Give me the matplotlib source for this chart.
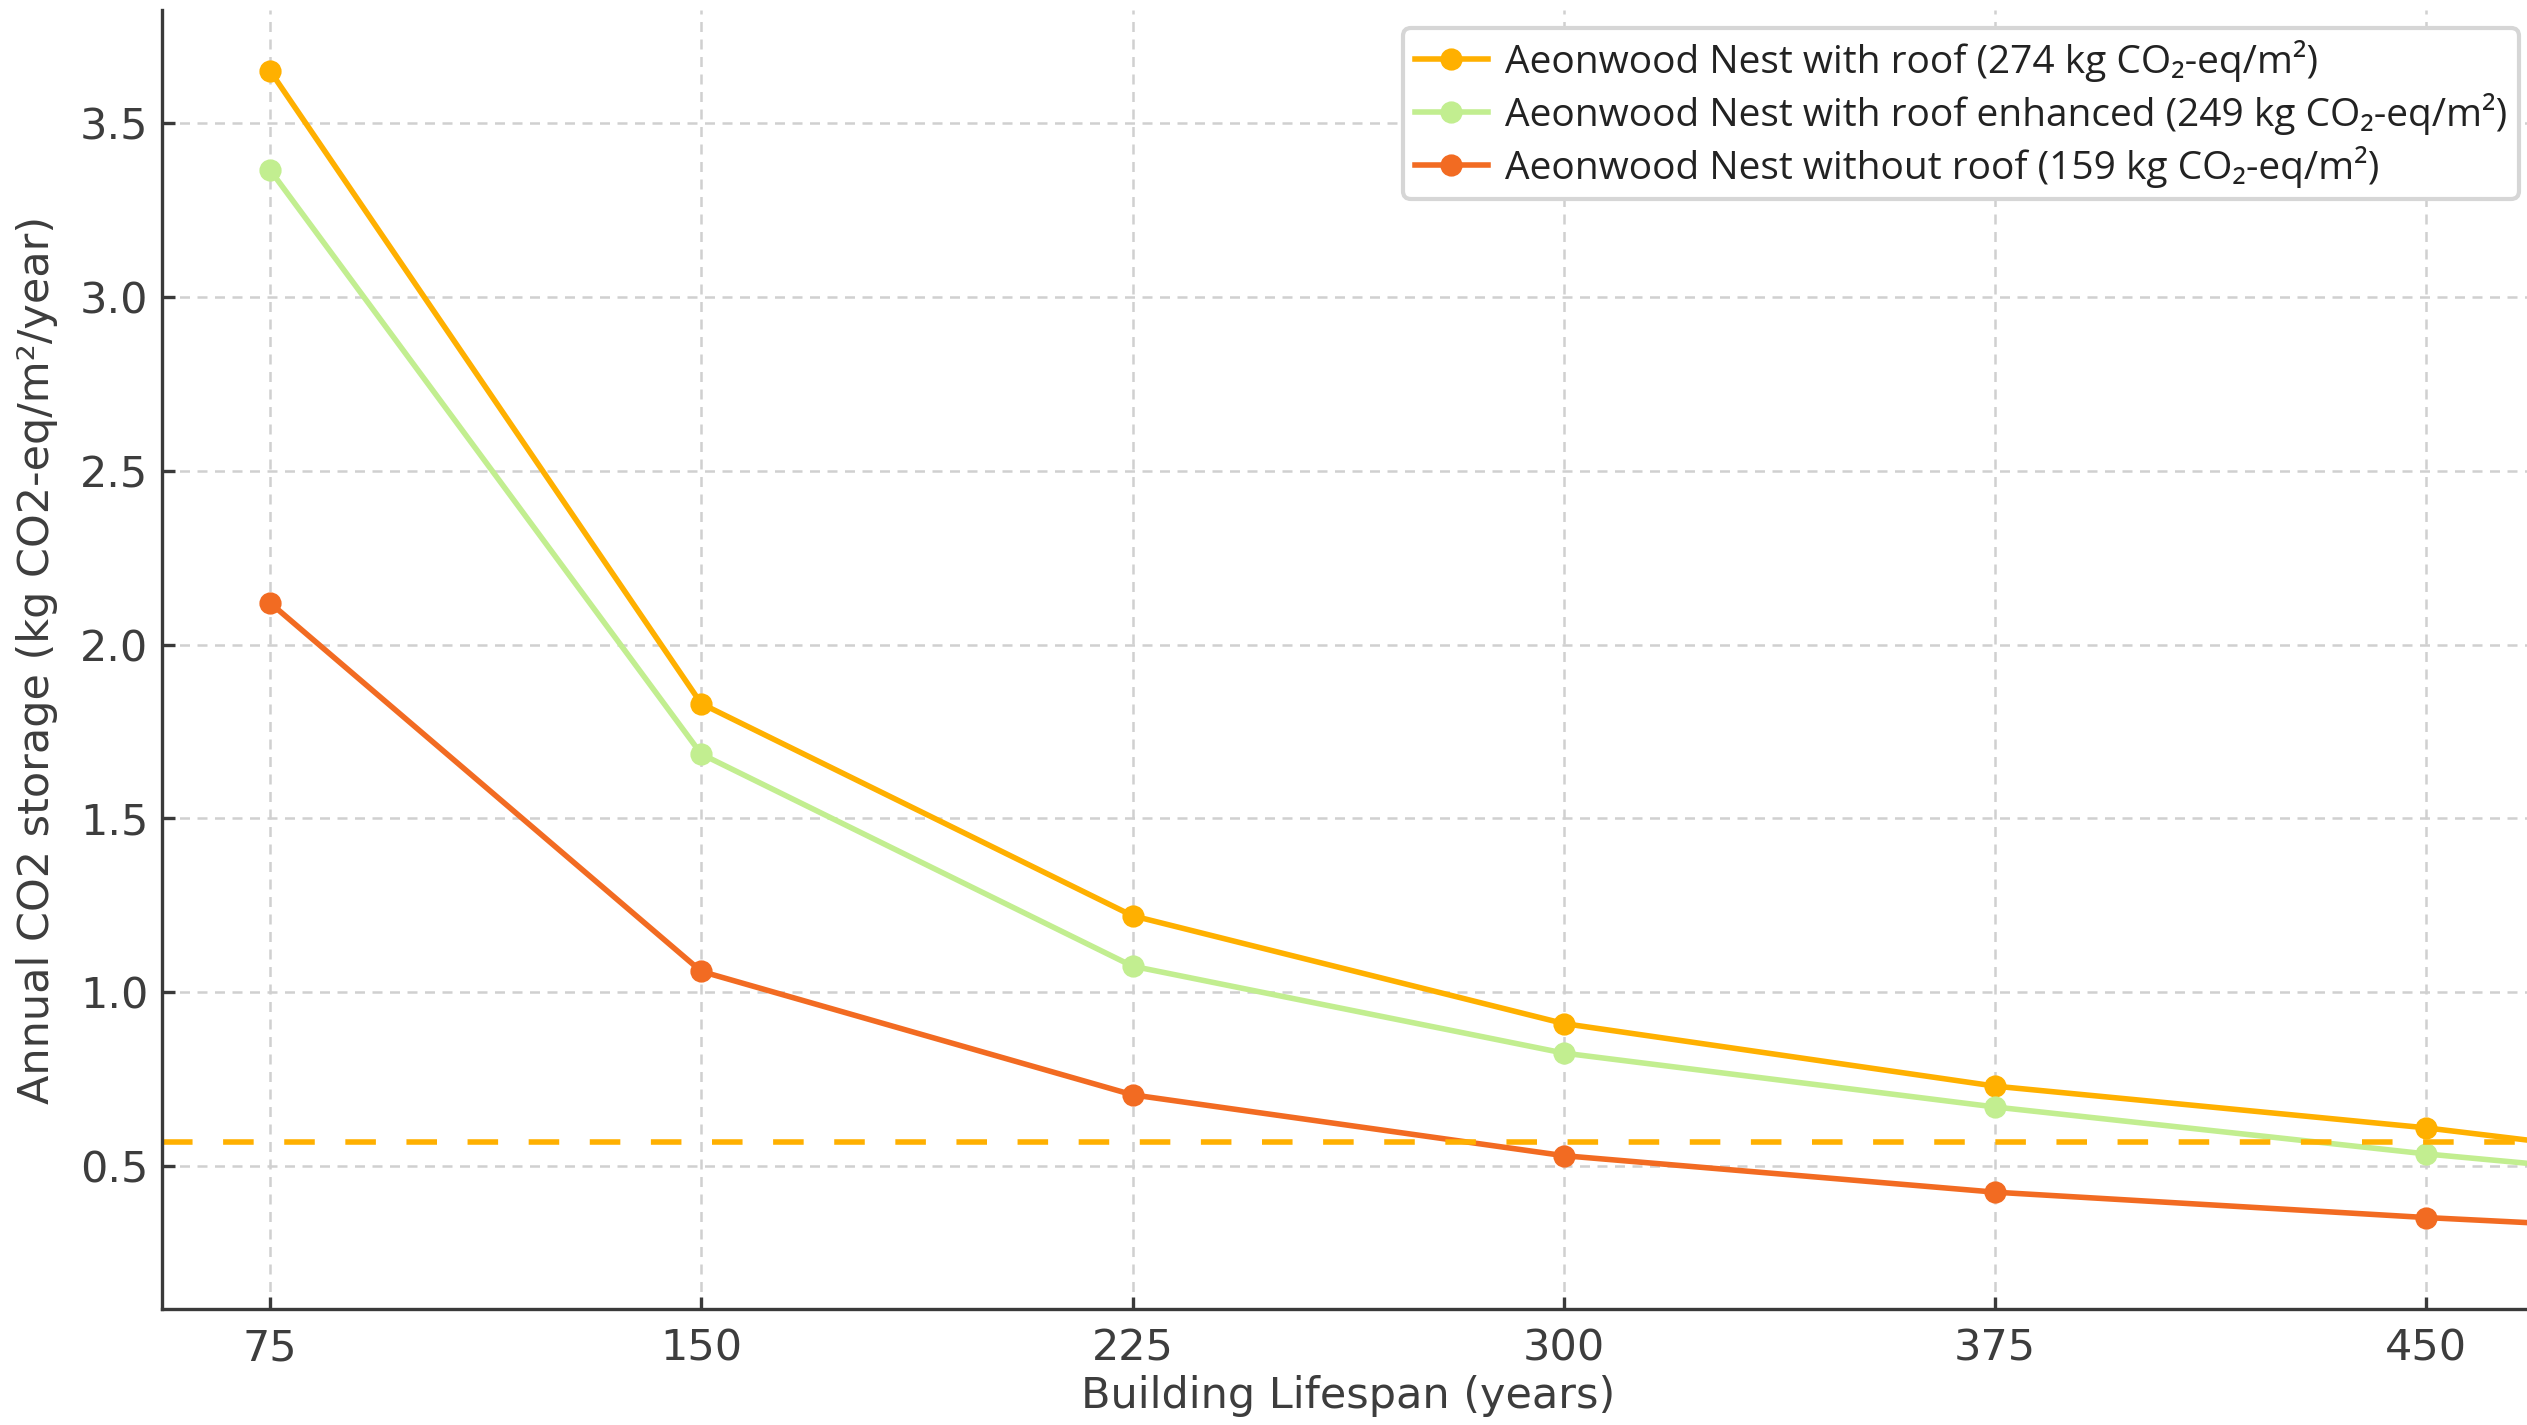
import matplotlib
matplotlib.use("Agg")
import matplotlib.pyplot as plt

# ---- data ----
lifespan = [75, 150, 225, 300, 375, 450, 525]
with_roof = [3.65, 1.83, 1.22, 0.91, 0.73, 0.61, 0.46]
with_roof_enh = [3.365, 1.685, 1.075, 0.825, 0.67, 0.535, 0.42]
without_roof = [2.12, 1.06, 0.705, 0.53, 0.425, 0.352, 0.29]
threshold = 0.57
labels = [
    "Aeonwood Nest with roof (274 kg CO\u2082-eq/m\u00b2)",
    "Aeonwood Nest with roof enhanced (249 kg CO\u2082-eq/m\u00b2)",
    "Aeonwood Nest without roof (159 kg CO\u2082-eq/m\u00b2)",
]
xticks = [75, 150, 225, 300, 375, 450]
yticks = [0.5, 1.0, 1.5, 2.0, 2.5, 3.0, 3.5]

c_orange = "#FFB000"
c_green = "#C2EE90"
c_red = "#F26B22"
txt = "#3d3d3d"

plt.rcParams['font.family'] = ['DejaVu Sans']
fig = plt.figure(figsize=(12.635, 7.125), dpi=200)
ax = fig.add_axes([0.0642, 0.0814, 1.0028 - 0.0642, 0.993 - 0.0814])

ax.grid(True, color="#d0d0d0", linestyle=(0, (4, 3)), linewidth=0.9)
ax.set_axisbelow(True)

ax.plot(lifespan, with_roof, color=c_orange, lw=2, marker="o", ms=7, label=labels[0])
ax.plot(lifespan, with_roof_enh, color=c_green, lw=2, marker="o", ms=7, label=labels[1])
ax.plot(lifespan, without_roof, color=c_red, lw=2, marker="o", ms=7, label=labels[2])
ax.axhline(threshold, color=c_orange, lw=2, dashes=(5.5, 5.5))

ax.set_xlim(56.25, 468.75)
ax.set_ylim(0.089, 3.825)
ax.set_xticks(xticks)
ax.set_yticks(yticks)
ax.set_yticklabels([f"{v:.1f}" for v in yticks])

for s in ["top", "right"]:
    ax.spines[s].set_visible(False)
for s in ["left", "bottom"]:
    ax.spines[s].set_color("#3a3a3a")
    ax.spines[s].set_linewidth(1.2)

ax.tick_params(axis="both", direction="in", length=4.5, width=1.2, color="#3a3a3a",
               labelsize=15.5, labelcolor=txt)
ax.tick_params(axis="y", pad=5)
ax.tick_params(axis="x", pad=6.5)

ax.set_xlabel("Building Lifespan (years)", fontsize=15.5, color=txt, labelpad=2)
ax.set_ylabel("Annual CO2 storage (kg CO2-eq/m\u00b2/year)", fontsize=15.5, color=txt, labelpad=8)

leg = ax.legend(loc="upper right", bbox_to_anchor=(0.9935, 0.986),
                prop={"family": ["Open Sans", "DejaVu Sans"], "size": 14},
                frameon=True, fancybox=True, edgecolor="#d6d6d6", framealpha=1,
                handlelength=1.9, borderpad=0.3, labelspacing=0.28, handletextpad=0.42, borderaxespad=0)
leg.get_frame().set_linewidth(1.5)
for t in leg.get_texts():
    t.set_color("#222222")

fig.savefig("out.png", dpi=200)
